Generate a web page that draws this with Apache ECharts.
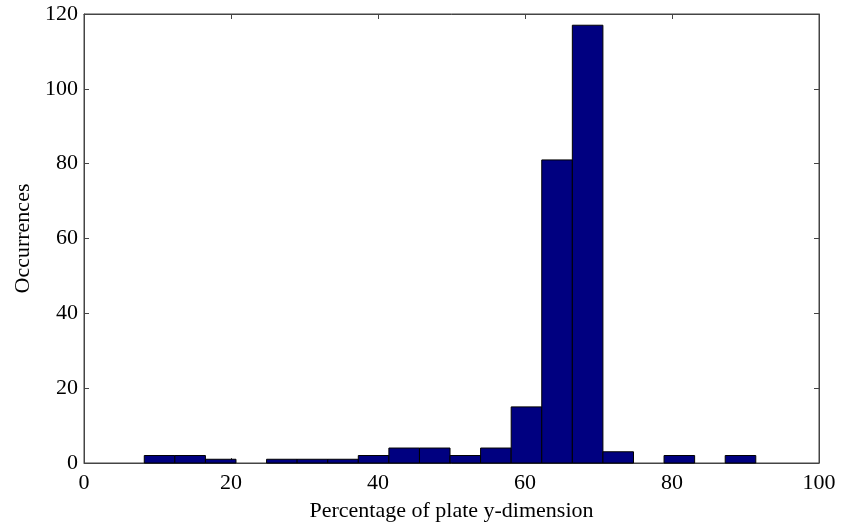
<!DOCTYPE html>
<html>
<head>
<meta charset="utf-8">
<script src="https://cdn.jsdelivr.net/npm/echarts@6/dist/echarts.min.js"></script>
<style>
  html, body { margin: 0; padding: 0; background: #fff; }
  #chart { width: 841px; height: 527px; }
</style>
</head>
<body>
<div id="chart"></div>
<script>
// histogram: 20 bins of width 4.16 between 8.2 and 91.4
var binWidth = 4.16;
var binCenters = [10.28, 14.44, 18.6, 22.76, 26.92, 31.08, 35.24, 39.4, 43.56, 47.72,
                  51.88, 56.04, 60.2, 64.36, 68.52, 72.68, 76.84, 81.0, 85.16, 89.32];
var counts = [2, 2, 1, 0, 1, 1, 1, 2, 4, 4,
              2, 4, 15, 81, 117, 3, 0, 2, 0, 2];

var font = 'Liberation Serif';
var axisCol = '#444';

var data = [];
for (var i = 0; i < counts.length; i++) {
    if (counts[i] > 0) data.push([binCenters[i], counts[i]]);
}

function renderBar(params, api) {
    var c = api.value(0);
    var p0 = api.coord([c - binWidth / 2, 0]);
    var p1 = api.coord([c + binWidth / 2, api.value(1)]);
    return {
        type: 'rect',
        shape: { x: p0[0], y: p1[1], width: p1[0] - p0[0], height: p0[1] - p1[1] },
        style: { fill: '#000080', stroke: '#000', lineWidth: 1 }
    };
}

function axisBase(pos, showLabel) {
    return {
        type: 'value', position: pos,
        axisLine: { show: true, onZero: false, lineStyle: { color: axisCol, width: 1 } },
        axisTick: { show: true, inside: true, length: 5, lineStyle: { color: axisCol } },
        axisLabel: showLabel ? { fontFamily: font, fontSize: 22, color: '#000', margin: 6 } : { show: false },
        splitLine: { show: false }
    };
}

var xb = axisBase('bottom', true), xt = axisBase('top', false);
var yl = axisBase('left', true), yr = axisBase('right', false);
[xb, xt].forEach(function (a) { a.min = 0; a.max = 100; a.interval = 20; });
[yl, yr].forEach(function (a) { a.min = 0; a.max = 120; a.interval = 20; });
xb.name = 'Percentage of plate y-dimension';
xb.nameLocation = 'middle';
xb.nameGap = 37;
xb.nameTextStyle = { fontFamily: font, fontSize: 22, color: '#000' };
xb.axisLabel.margin = 9;
yl.name = 'Occurrences';
yl.nameLocation = 'middle';
yl.nameGap = 48;
yl.nameTextStyle = { fontFamily: font, fontSize: 22, color: '#000' };

var chart = echarts.init(document.getElementById('chart'));
chart.setOption({
    animation: false,
    grid: { left: 84, top: 14, right: 22, bottom: 62, show: true, borderColor: axisCol, borderWidth: 1 },
    xAxis: [xb, xt],
    yAxis: [yl, yr],
    series: [{
        type: 'custom',
        renderItem: renderBar,
        encode: { x: 0, y: 1 },
        data: data
    }, {
        type: 'line',
        xAxisIndex: 1, yAxisIndex: 1,
        data: [[0, 0]],
        symbol: 'none',
        lineStyle: { opacity: 0 }
    }]
});
</script>
</body>
</html>
